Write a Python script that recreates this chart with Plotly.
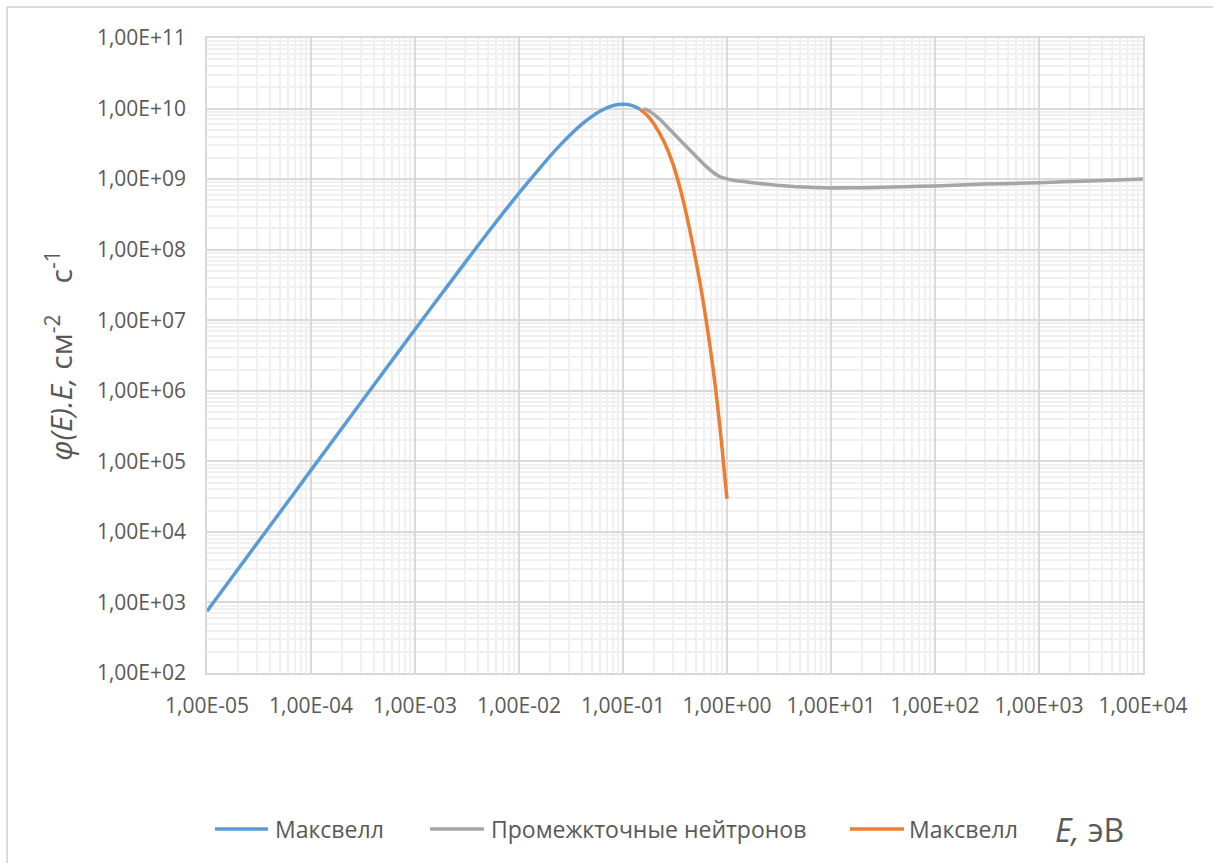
import plotly.graph_objects as go

# Maxwell (thermal) part of the spectrum, E in eV, phi(E)*E in cm^-2 s^-1
energy_maxwell = [1e-5, 2e-5, 5e-5, 1e-4, 2e-4, 5e-4, 1e-3, 2e-3, 5e-3, 1e-2,
                  1.5e-2, 2e-2, 2.5e-2, 3e-2, 4e-2, 5e-2, 6e-2, 7e-2, 8e-2, 9e-2,
                  0.1, 0.11, 0.12, 0.13, 0.146]
flux_maxwell = [750, 3.0e3, 1.87e4, 7.5e4, 3.0e5, 1.86e6, 7.4e6, 2.9e7, 1.74e8, 6.35e8,
                1.3e9, 2.14e9, 3.06e9, 4.02e9, 5.95e9, 7.69e9, 9.14e9, 1.022e10, 1.098e10, 1.138e10,
                1.15e10, 1.139e10, 1.11e10, 1.067e10, 9.77e9]

# Intermediate neutrons (slowing-down region)
energy_intermediate = [0.157, 0.17, 0.19, 0.227, 0.27, 0.328, 0.4, 0.474, 0.55, 0.638,
                       0.7, 0.75, 0.8, 0.857, 0.923, 1.0, 1.15, 1.5, 2.08, 3.0,
                       4.68, 7.0, 10, 20, 50, 100, 300, 1000, 3000, 10000]
flux_intermediate = [9.9e9, 9.6e9, 8.7e9, 7.0e9, 5.4e9, 4.0e9, 2.97e9, 2.3e9, 1.84e9, 1.49e9,
                     1.32e9, 1.22e9, 1.14e9, 1.08e9, 1.04e9, 1.007e9, 9.66e8, 9.16e8, 8.67e8, 8.2e8,
                     7.82e8, 7.6e8, 7.5e8, 7.55e8, 7.8e8, 8.0e8, 8.5e8, 8.9e8, 9.4e8, 1.0e9]

# Maxwell tail beyond the joining point
energy_tail = [0.146, 0.17, 0.2, 0.25, 0.3, 0.35, 0.4, 0.45, 0.5, 0.55,
               0.6, 0.65, 0.7, 0.75, 0.8, 0.85, 0.9, 0.95, 1.0]
flux_tail = [9.77e9, 8.1e9, 5.95e9, 3.3e9, 1.7e9, 7.9e8, 3.55e8, 1.58e8, 7.2e7, 3.4e7,
             1.58e7, 7.4e6, 3.47e6, 1.62e6, 7.4e5, 3.3e5, 1.45e5, 6.3e4, 2.95e4]

x_decades = list(range(-5, 5))
y_decades = list(range(2, 12))
x_tick_text = [("1,00E+%02d" % d) if d >= 0 else ("1,00E-%02d" % (-d)) for d in x_decades]
y_tick_text = ["1,00E+%02d" % d for d in y_decades]

series_names = ["Максвелл", "Промежкточные нейтронов", "Максвелл"]
BLUE = "#5B9BD5"
GREY = "#A5A5A5"
ORANGE = "#ED7D31"
series_colors = [BLUE, GREY, ORANGE]
TEXT = "#595959"
MAJOR = "#D9D9D9"
MINOR = "#F0F0F0"
FONT = "Open Sans"

W, H = 1213, 863
L, R, T, B = 207, 70, 38, 190
pw, ph = W - L - R, H - T - B


def px(x):
    return (x - L) / pw


def py(y):
    return (H - B - y) / ph


def minor_vals(decades):
    return [m * 10.0 ** d for d in decades[:-1] for m in range(2, 10)]


fig = go.Figure()
for xs, ys, name, color in zip([energy_maxwell, energy_intermediate, energy_tail],
                               [flux_maxwell, flux_intermediate, flux_tail],
                               series_names, series_colors):
    fig.add_trace(go.Scatter(x=xs, y=ys, mode="lines", name=name, showlegend=False,
                             line=dict(color=color, width=3.5, shape="spline", smoothing=0.6)))

axis_common = dict(
    type="log",
    showline=True, linecolor=MAJOR, linewidth=1.5, mirror=True,
    showgrid=True, gridcolor=MAJOR, gridwidth=1.5,
    ticks="", zeroline=False,
    tickfont=dict(family=FONT, size=21, color=TEXT),
)

fig.update_xaxes(
    **axis_common,
    range=[-5, 4],
    tickmode="array", tickvals=[10.0 ** d for d in x_decades], ticktext=x_tick_text,
    ticklabelstandoff=13,
    minor=dict(tickmode="array", tickvals=minor_vals(x_decades), showgrid=True,
               gridcolor=MINOR, gridwidth=1.5, ticks=""),
)
fig.update_yaxes(
    **axis_common,
    range=[2, 11],
    tickmode="array", tickvals=[10.0 ** d for d in y_decades], ticktext=y_tick_text,
    ticklabelstandoff=15,
    minor=dict(tickmode="array", tickvals=minor_vals(y_decades), showgrid=True,
               gridcolor=MINOR, gridwidth=1.5, ticks=""),
    title=dict(text="<i>φ(E).E,</i> см<sup>-2</sup>&nbsp;&nbsp;&nbsp;&nbsp;с<sup>-1</sup>",
               font=dict(family=FONT, size=30, color=TEXT), standoff=15),
)

# Legend row drawn along the bottom: line sample + label for each series
legend_y = 829
legend_items = [(215, 268, 273), (430, 484, 489), (850, 904, 907)]
shapes = [
    # outer chart frame (top and left edges)
    dict(type="line", xref="paper", yref="paper", x0=px(7), x1=px(1260), y0=py(7), y1=py(7),
         line=dict(color=MAJOR, width=2), layer="below"),
    dict(type="line", xref="paper", yref="paper", x0=px(7), x1=px(7), y0=py(7), y1=py(900),
         line=dict(color=MAJOR, width=2), layer="below"),
]
annotations = []
for (x0, x1, xt), name, color in zip(legend_items, series_names, series_colors):
    shapes.append(dict(type="line", xref="paper", yref="paper",
                       x0=px(x0), x1=px(x1), y0=py(legend_y), y1=py(legend_y),
                       line=dict(color=color, width=3.5)))
    annotations.append(dict(text=name, xref="paper", yref="paper",
                            x=px(xt), xanchor="left", y=py(legend_y), yanchor="middle",
                            showarrow=False, font=dict(family=FONT, size=23, color=TEXT)))

annotations.append(dict(text="<i>E,</i>&nbsp;эВ", xref="paper", yref="paper",
                        x=px(1053), xanchor="left", y=py(829), yanchor="middle",
                        showarrow=False, font=dict(family=FONT, size=32, color=TEXT)))

fig.update_layout(
    width=W, height=H,
    margin=dict(l=L, r=R, t=T, b=B, autoexpand=False),
    paper_bgcolor="white", plot_bgcolor="white",
    showlegend=False,
    shapes=shapes,
    annotations=annotations,
)

fig.write_html("out.html")
